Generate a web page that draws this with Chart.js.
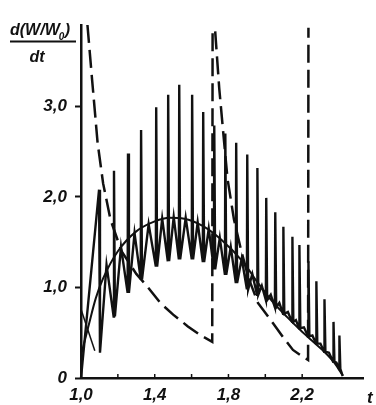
<!DOCTYPE html>
<html>
<head>
<meta charset="utf-8">
<script src="https://cdn.jsdelivr.net/npm/chart.js@4.4.0/dist/chart.umd.min.js"></script>
<style>
html, body { margin: 0; padding: 0; background: #fff; }
#wrap { width: 376px; height: 405px; position: relative; }
</style>
</head>
<body>
<div id="wrap"><canvas id="chart"></canvas></div>
<script>
var ink = '#111';
var fontFamily = '"Liberation Sans", Arial, sans-serif';

// axis ticks
var xLabelVals = [1.0, 1.4, 1.8, 2.2];
var xLabelText = ['1,0', '1,4', '1,8', '2,2'];
var xTickMarks = [1.2, 1.4, 1.6, 1.8, 2.0, 2.2];
var yLabelVals = [0, 1, 2, 3];
var yLabelText = ['0', '1,0', '2,0', '3,0'];

// smooth curve
var smoothT = [1.0, 1.04, 1.08, 1.12, 1.2, 1.3, 1.4, 1.48, 1.56, 1.66, 1.76, 1.88, 1.96, 2.04, 2.12, 2.19, 2.26, 2.32, 2.37, 2.42];
var smoothV = [0.25, 0.57, 0.88, 1.1, 1.4, 1.62, 1.73, 1.77, 1.76, 1.68, 1.53, 1.28, 1.05, 0.84, 0.67, 0.53, 0.40, 0.29, 0.18, 0.03];

// dashed curve (two decays with jumps)
var dashT = [1.035, 1.06, 1.09, 1.12, 1.16, 1.22, 1.30, 1.36, 1.43, 1.50, 1.58, 1.65, 1.712, 1.714, 1.728, 1.75, 1.77, 1.795, 1.83, 1.87, 1.91, 1.96, 2.04, 2.10, 2.15, 2.20, 2.232, 2.234];
var dashV = [3.9, 3.3, 2.6, 2.15, 1.75, 1.4, 1.15, 1.01, 0.83, 0.7, 0.57, 0.47, 0.4, 3.85, 3.83, 3.2, 2.75, 2.2, 1.75, 1.4, 1.1, 0.83, 0.61, 0.44, 0.31, 0.24, 0.2, 3.87];

// spikes
var spikeT = [1.098, 1.179, 1.255, 1.326, 1.408, 1.473, 1.533, 1.603, 1.663, 1.723, 1.783, 1.842, 1.902, 1.957, 2.005, 2.054, 2.098, 2.147, 2.185, 2.234, 2.277, 2.321, 2.370, 2.402];
var spikeTop = [2.08, 2.29, 2.48, 2.74, 2.99, 3.13, 3.24, 3.13, 2.94, 2.79, 2.70, 2.60, 2.47, 2.32, 1.99, 1.83, 1.67, 1.56, 1.47, 1.29, 1.07, 0.87, 0.62, 0.47];
var spikeBase = [0.28, 0.68, 0.94, 1.09, 1.23, 1.29, 1.31, 1.31, 1.28, 1.2, 1.14, 1.05, 0.98, 0.92, 0.86, 0.78, 0.71, 0.62, 0.55, 0.46, 0.38, 0.29, 0.18, 0.1];
var zigTop = [1.25, 1.45, 1.6, 1.7, 1.76, 1.78, 1.77, 1.72, 1.65, 1.55, 1.45, 1.32, 1.15, 1.02, 0.92, 0.83, 0.73, 0.64, 0.56, 0.47, 0.38, 0.28, 0.17];

// early crossing line
var earlyT = [1.0, 1.075];
var earlyV = [0.76, 0.3];

function toPoints(ts, vs){
	var pts = [];
	for(var i = 0; i < ts.length; i++){
		pts.push({x: ts[i], y: vs[i]});
	}
	return pts;
}

function sawPoints(){
	var pts = [{x: 1.0, y: 0}];
	for(var i = 0; i < spikeT.length; i++){
		if(i > 0){
			pts.push({x: spikeT[i] - 0.002, y: spikeBase[i]});
		}
		pts.push({x: spikeT[i], y: spikeTop[i]});
		pts.push({x: spikeT[i] + 0.005, y: spikeBase[i]});
		if(i < zigTop.length){
			pts.push({x: (spikeT[i] + spikeT[i + 1]) / 2, y: zigTop[i]});
		}
	}
	pts.push({x: 2.42, y: 0.02});
	return pts;
}

function findLabel(value, vals, text){
	for(var i = 0; i < vals.length; i++){
		if(Math.abs(value - vals[i]) < 1e-6){
			return text[i];
		}
	}
	return '';
}

var axisMarks = {
	id: 'axisMarks',
	afterDraw: function(chart){
		var ctx = chart.ctx;
		var xs = chart.scales.x;
		var area = chart.chartArea;
		ctx.save();
		ctx.strokeStyle = ink;
		ctx.lineWidth = 1.5;
		for(var i = 0; i < xTickMarks.length; i++){
			var px = xs.getPixelForValue(xTickMarks[i]);
			ctx.beginPath();
			ctx.moveTo(px, area.bottom);
			ctx.lineTo(px, area.bottom - 4);
			ctx.stroke();
		}
		ctx.fillStyle = ink;
		ctx.font = 'italic bold 17px ' + fontFamily;
		ctx.textBaseline = 'alphabetic';
		ctx.textAlign = 'left';
		ctx.fillText('t', area.right + 4, 403);

		ctx.font = 'italic bold 16px ' + fontFamily;
		var tx = 10;
		ctx.fillText('d(W/W', tx, 35);
		var w = ctx.measureText('d(W/W').width;
		ctx.font = 'italic bold 10px ' + fontFamily;
		ctx.fillText('0', tx + w - 1, 40);
		ctx.font = 'italic bold 16px ' + fontFamily;
		ctx.fillText(')', tx + w + 5, 35);
		ctx.fillRect(10, 40.5, 66, 2);
		ctx.textAlign = 'center';
		ctx.fillText('dt', 37, 62);
		ctx.restore();
	}
};

var tickFont = {family: fontFamily, size: 17, style: 'italic', weight: 'bold'};

var ctx = document.getElementById('chart').getContext('2d');
var myChart = new Chart(ctx, {
	type: 'line',
	data: {
		datasets: [{
			label: 'saw',
			data: sawPoints(),
			borderColor: ink,
			borderWidth: 2.4,
			pointRadius: 0,
			tension: 0,
			clip: false
		}, {
			label: 'smooth',
			data: toPoints(smoothT, smoothV),
			borderColor: ink,
			borderWidth: 2,
			pointRadius: 0,
			cubicInterpolationMode: 'monotone',
			clip: false
		}, {
			label: 'early',
			data: toPoints(earlyT, earlyV),
			borderColor: ink,
			borderWidth: 1.5,
			pointRadius: 0,
			clip: false
		}, {
			label: 'dashed',
			data: toPoints(dashT, dashV),
			borderColor: ink,
			borderWidth: 2.5,
			borderDash: [18, 7],
			pointRadius: 0,
			tension: 0,
			clip: false
		}]
	},
	options: {
		responsive: true,
		maintainAspectRatio: false,
		animation: false,
		layout: {padding: {top: 25, right: 13, left: 0, bottom: 0}},
		plugins: {legend: {display: false}, tooltip: {enabled: false}},
		scales: {
			x: {
				type: 'linear',
				min: 1.0,
				max: 2.53,
				afterFit: function(scale){ scale.height = 27; },
				border: {display: true, color: ink, width: 2.5},
				grid: {display: true, drawOnChartArea: false, drawTicks: false},
				ticks: {
					stepSize: 0.2,
					includeBounds: false,
					autoSkip: false,
					maxRotation: 0,
					padding: 7,
					color: ink,
					font: tickFont,
					callback: function(value){ return findLabel(value, xLabelVals, xLabelText); }
				}
			},
			y: {
				type: 'linear',
				min: 0,
				max: 3.9,
				afterFit: function(scale){ scale.width = 81; },
				border: {display: true, color: ink, width: 2.5},
				grid: {display: true, drawOnChartArea: false, drawTicks: true, tickLength: 6, tickColor: ink, tickWidth: 2},
				ticks: {
					stepSize: 1,
					includeBounds: false,
					padding: 8,
					color: ink,
					font: tickFont,
					callback: function(value){ return findLabel(value, yLabelVals, yLabelText); }
				}
			}
		}
	},
	plugins: [axisMarks]
});
</script>
</body>
</html>
